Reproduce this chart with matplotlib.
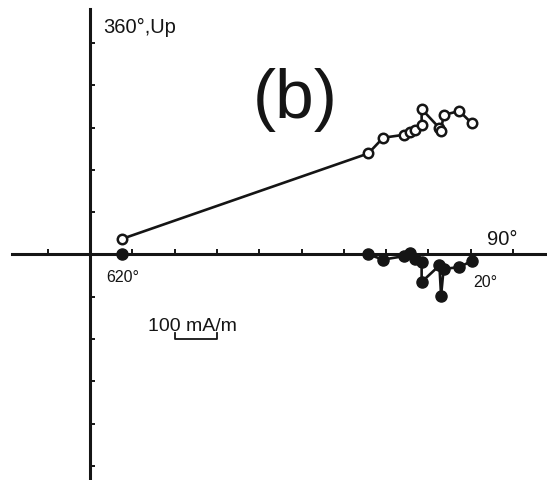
import matplotlib
matplotlib.use("Agg")
import matplotlib.pyplot as plt

plt.rcParams['font.family'] = ['Liberation Sans', 'DejaVu Sans']

# Data (mA/m): East component, Up component (open), North component (filled)
east  = [76, 658, 693, 742, 757, 768, 784, 784, 826, 830, 836, 873, 903]
up    = [37, 239, 276, 283, 289, 295, 307, 344, 299, 293, 330, 339, 310]
north = [0, 0, -12, -4, 4, -11, -17, -65, -26, -97, -34, -30, -15]

xticks = [-100, 100, 200, 300, 400, 500, 600, 700, 800, 900, 1000]
yticks = [-500, -400, -300, -200, -100, 100, 200, 300, 400, 500]
scale_bar = [200, 300]

W, H = 547, 481
fig = plt.figure(figsize=(W / 100, H / 100), dpi=100)
ax = fig.add_axes([0, 0, 1, 1])
ax.set_xlim(-212.8, 1080.4)
ax.set_ylim(-533.1, 604.0)

col = '#151515'
for s in ['top', 'right']:
    ax.spines[s].set_visible(False)
ax.spines['left'].set_position(('data', 0))
ax.spines['bottom'].set_position(('data', 0))
ax.spines['left'].set_bounds(-533.1, 580)
ax.spines['bottom'].set_bounds(-184, 1080.4)
for s in ['left', 'bottom']:
    ax.spines[s].set_linewidth(2.2)
    ax.spines[s].set_color(col)
    ax.spines[s].set_zorder(1)

ax.set_xticks(xticks)
ax.set_yticks(yticks)
ax.tick_params(axis='both', direction='in', length=3.5, width=1.4,
               color=col, labelbottom=False, labelleft=False)

# filled (horizontal projection)
ax.plot(east, north, '-', color=col, lw=1.9, marker='o', ms=8,
        mfc=col, mec=col, zorder=3, clip_on=False)
# open (vertical projection)
ax.plot(east, up, '-', color=col, lw=1.9, marker='o', ms=6.8,
        mfc='white', mec=col, mew=1.8, zorder=3, clip_on=False)

# scale bar
ax.plot([scale_bar[0], scale_bar[0], scale_bar[1], scale_bar[1]],
        [-186, -200, -200, -186], color=col, lw=1.3)


def px(x, y):
    return x / W, 1 - y / H

fig.text(*px(103, 33), "360°,Up", fontsize=14.5, color=col, ha='left', va='baseline')
fig.text(*px(295, 118), "(b)", fontsize=50, color=col, ha='center', va='baseline')
fig.text(*px(487, 245), "90°", fontsize=14.5, color=col, ha='left', va='baseline')
fig.text(*px(106, 282), "620°", fontsize=11.5, color=col, ha='left', va='baseline')
fig.text(*px(473, 287), "20°", fontsize=11.5, color=col, ha='left', va='baseline')
fig.text(*px(148, 331), "100 mA/m", fontsize=14, color=col, ha='left', va='baseline')

fig.savefig("out.png", dpi=100, facecolor='white')
